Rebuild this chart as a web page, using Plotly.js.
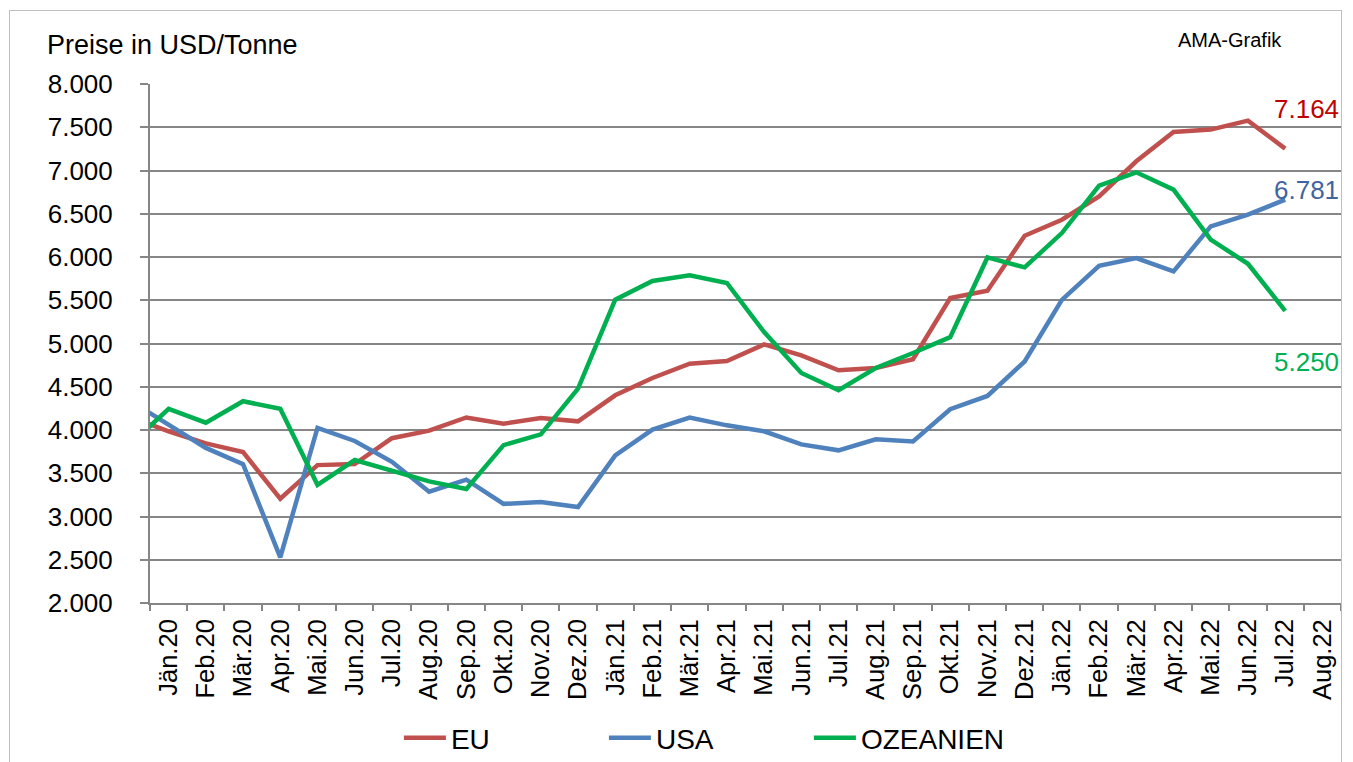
<!DOCTYPE html>
<html>
<head>
<meta charset="utf-8">
<script src="https://cdn.plot.ly/plotly-3.0.1.min.js"></script>
<style>
  body { margin: 0; background: #fff; }
  #chart { width: 1353px; height: 762px; }
  #frame { position: absolute; left: 9px; top: 10px; width: 1331px; height: 760px; border: 1px solid #bfbfbf; pointer-events: none; }
</style>
</head>
<body>
<div id="chart"></div>
<div id="frame"></div>
<script>
// months (Dez.19 sits left of the visible range, only the line stub shows)
var months = ["Dez.19", "Jän.20", "Feb.20", "Mär.20", "Apr.20", "Mai.20", "Jun.20", "Jul.20", "Aug.20", "Sep.20", "Okt.20", "Nov.20", "Dez.20",
  "Jän.21", "Feb.21", "Mär.21", "Apr.21", "Mai.21", "Jun.21", "Jul.21", "Aug.21", "Sep.21", "Okt.21", "Nov.21", "Dez.21",
  "Jän.22", "Feb.22", "Mär.22", "Apr.22", "Mai.22", "Jun.22", "Jul.22", "Aug.22"];

var eu = [4145, 3985, 3845, 3745, 3206, 3594, 3606, 3905, 3993, 4145, 4073, 4139, 4100,
  4401, 4601, 4767, 4798, 4990, 4863, 4690, 4717, 4818, 5525, 5610, 6246,
  6431, 6701, 7106, 7446, 7473, 7577, 7253, null];
var usa = [4330, 4065, 3793, 3605, 2527, 4025, 3873, 3633, 3286, 3426, 3146, 3168, 3110,
  3707, 4004, 4143, 4054, 3985, 3834, 3765, 3892, 3867, 4240, 4394, 4792,
  5505, 5899, 5988, 5833, 6354, 6489, 6663, null];
var ozeanien = [3845, 4245, 4085, 4333, 4245, 3366, 3653, 3526, 3406, 3318, 3825, 3950, 4478,
  5507, 5723, 5788, 5700, 5133, 4659, 4459, 4717, 4890, 5073, 5995, 5880,
  6277, 6825, 6979, 6779, 6200, 5922, 5378, null];

var seriesNames = ["EU", "USA", "OZEANIEN"];
var seriesColors = ["#c0504d", "#4f81bd", "#00b050"];
var endLabels = ["7.164", "6.781", "5.250"];
var endLabelColors = ["#c00000", "#3f64a0", "#00b050"];

var fnt = "Liberation Sans, Arial, sans-serif";
var allData = [eu, usa, ozeanien];

var traces = allData.map(function (vals, i) {
  return {
    type: "scatter",
    mode: "lines",
    name: seriesNames[i],
    x: months,
    y: vals,
    line: { color: seriesColors[i], width: 4.5 },
    hoverinfo: "x+y"
  };
});

// end labels next to the last point, shifted like in the original
var shifts = [40, 10, -51];
var annotations = allData.map(function (vals, i) {
  return {
    x: "Jul.22", y: vals[31], xref: "x", yref: "y",
    text: endLabels[i], showarrow: false,
    xanchor: "center", yanchor: "middle", xshift: 21, yshift: shifts[i],
    font: { family: fnt, size: 26, color: endLabelColors[i] }
  };
});
annotations.push({
  xref: "paper", yref: "paper", x: -0.088, y: 1.075, xanchor: "left", yanchor: "middle",
  text: "Preise in USD/Tonne", showarrow: false,
  font: { family: fnt, size: 27, color: "#000" }
});
annotations.push({
  xref: "paper", yref: "paper", x: 0.907, y: 1.084, xanchor: "center", yanchor: "middle",
  text: "AMA-Grafik", showarrow: false,
  font: { family: fnt, size: 20, color: "#000" }
});

var layout = {
  width: 1353,
  height: 762,
  margin: { l: 150, r: 12, t: 84, b: 159, autoexpand: false },
  paper_bgcolor: "#ffffff",
  plot_bgcolor: "#ffffff",
  separators: ",.",
  font: { family: fnt, color: "#000" },
  showlegend: true,
  legend: {
    orientation: "h", x: 0.209, y: -0.26, xanchor: "left", yanchor: "middle",
    font: { family: fnt, size: 28, color: "#000" },
    entrywidth: 148, itemwidth: 42, traceorder: "normal"
  },
  xaxis: {
    type: "category",
    range: [0.5, 32.5],
    tickson: "boundaries",
    ticks: "outside", ticklen: 6, tickwidth: 2, tickcolor: "#868686",
    showline: true, linecolor: "#868686", linewidth: 2,
    showgrid: false, zeroline: false,
    tickangle: -90,
    ticklabelstandoff: 4,
    automargin: false,
    tickfont: { family: fnt, size: 25.5, color: "#000" }
  },
  yaxis: {
    range: [2000, 8000],
    dtick: 500, tick0: 2000,
    tickformat: ",.0f",
    ticks: "outside", ticklen: 8, tickwidth: 2, tickcolor: "#868686",
    showline: true, linecolor: "#868686", linewidth: 2,
    showgrid: true, gridcolor: "#868686", gridwidth: 2,
    zeroline: false,
    automargin: false,
    ticklabelstandoff: 22,
    tickfont: { family: fnt, size: 26, color: "#000" }
  },
  annotations: annotations
};

Plotly.newPlot("chart", traces, layout, { displayModeBar: false, staticPlot: true });
</script>
</body>
</html>
